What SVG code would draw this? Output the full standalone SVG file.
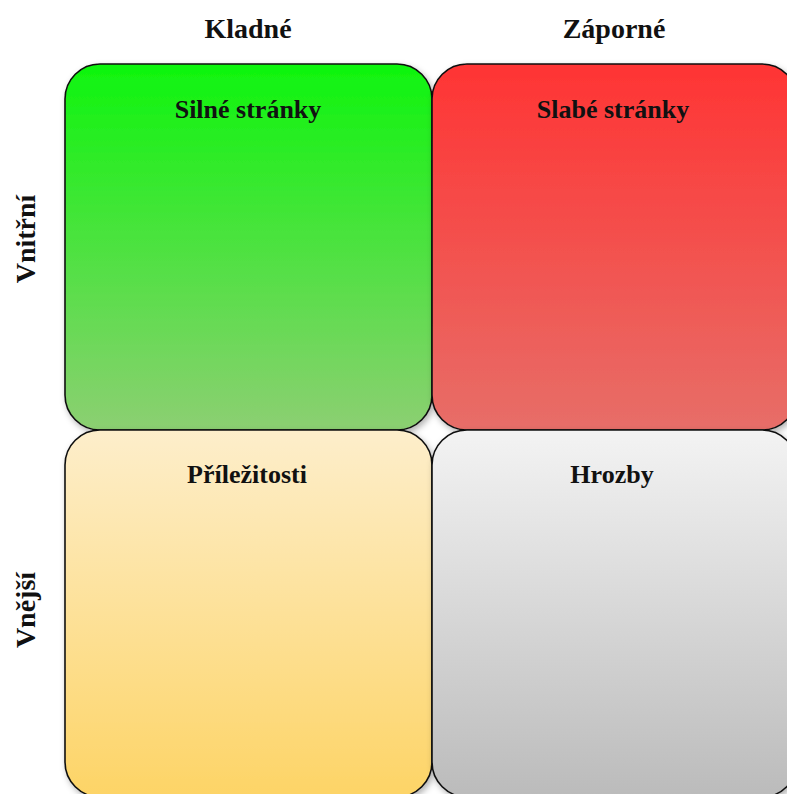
<svg xmlns="http://www.w3.org/2000/svg" width="787" height="794" viewBox="0 0 787 794">
<style>
.box{stroke:#111;stroke-width:1.6}
.t{font-family:"Liberation Serif","Times New Roman",serif;font-weight:bold;font-size:26px;fill:#111;text-anchor:middle}
.h{font-size:28px}
</style>
<defs>
<filter id="sh" x="-10%" y="-10%" width="120%" height="120%">
<feDropShadow dx="2" dy="3" stdDeviation="3" flood-color="#000" flood-opacity="0.3"/>
</filter>
<linearGradient id="g1" x1="0" y1="0" x2="0" y2="1"><stop offset="0" stop-color="#0ef50e"/><stop offset="1" stop-color="#8ccf72"/></linearGradient>
<linearGradient id="g2" x1="0" y1="0" x2="0" y2="1"><stop offset="0" stop-color="#ff3434"/><stop offset="1" stop-color="#e76e68"/></linearGradient>
<linearGradient id="g3" x1="0" y1="0" x2="0" y2="1"><stop offset="0" stop-color="#fdeecb"/><stop offset="1" stop-color="#fdd466"/></linearGradient>
<linearGradient id="g4" x1="0" y1="0" x2="0" y2="1"><stop offset="0" stop-color="#f3f3f3"/><stop offset="1" stop-color="#bbbbbb"/></linearGradient>
</defs>
<rect width="787" height="794" fill="#fff"/>
<g id="col-kladne"><text class="t h" x="248" y="38">Kladné</text></g>
<g id="col-zaporne"><text class="t h" x="614" y="38">Záporné</text></g>
<g id="row-vnitrni"><text class="t h" transform="translate(35,239) rotate(-90)">Vnitřní</text></g>
<g id="row-vnejsi"><text class="t h" transform="translate(35,610) rotate(-90)">Vnější</text></g>
<g id="silne">
<rect class="box" x="65" y="64" width="367" height="366" rx="35" fill="url(#g1)" filter="url(#sh)"/>
<text class="t" x="248" y="118">Silné stránky</text>
</g>
<g id="slabe">
<rect class="box" x="432" y="64" width="365" height="366" rx="35" fill="url(#g2)" filter="url(#sh)"/>
<text class="t" x="613" y="118">Slabé stránky</text>
</g>
<g id="prilezitosti">
<rect class="box" x="65" y="430" width="367" height="367" rx="35" fill="url(#g3)" filter="url(#sh)"/>
<text class="t" x="247" y="483">Příležitosti</text>
</g>
<g id="hrozby">
<rect class="box" x="432" y="430" width="365" height="367" rx="35" fill="url(#g4)" filter="url(#sh)"/>
<text class="t" x="612" y="483">Hrozby</text>
</g>
<g id="connectors"/>
</svg>
